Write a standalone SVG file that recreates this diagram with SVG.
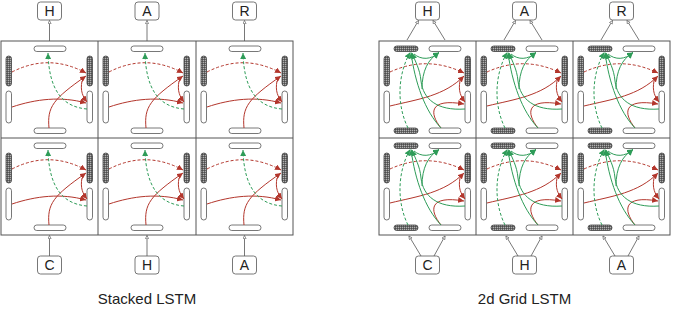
<svg xmlns="http://www.w3.org/2000/svg" xmlns:xlink="http://www.w3.org/1999/xlink" width="673" height="313" viewBox="0 0 673 313">
<style>
.frame{fill:none;stroke:#555;stroke-width:1}
.pw{fill:#fff;stroke:#555;stroke-width:0.8}
.ph{fill:url(#hatch);stroke:#444;stroke-width:0.8}
.r{fill:none;stroke:#b3362c;stroke-width:1;marker-end:url(#ar)}
.g{fill:none;stroke:#2e9c58;stroke-width:1;marker-end:url(#ag)}
.d{stroke-dasharray:3,2}
.lab{fill:#fff;stroke:#555;stroke-width:0.8}
.lt{font-family:"Liberation Sans",Arial,sans-serif;font-size:14px;fill:#222;text-anchor:middle}
.ttl{font-family:"Liberation Sans",Arial,sans-serif;font-size:15px;fill:#222;text-anchor:middle}
.la{fill:none;stroke:#555;stroke-width:0.8;marker-end:url(#ao)}
</style>
<defs>
<pattern id="hatch" width="2" height="2" patternUnits="userSpaceOnUse"><rect width="2" height="2" fill="#b0b0b0"/><path d="M0,0.5H2M0.5,0V2" stroke="#3a3a3a" stroke-width="0.6"/></pattern>
<marker id="ar" markerUnits="userSpaceOnUse" markerWidth="7" markerHeight="6" refX="6" refY="3" orient="auto"><path d="M0,0 L6,3 L0,6 z" fill="#b3362c"/></marker>
<marker id="ag" markerUnits="userSpaceOnUse" markerWidth="7" markerHeight="6" refX="6" refY="3" orient="auto"><path d="M0,0 L6,3 L0,6 z" fill="#2e9c58"/></marker>
<marker id="ao" markerUnits="userSpaceOnUse" markerWidth="5" markerHeight="5" refX="3.6" refY="2" orient="auto"><path d="M0.4,0.4 L3.6,2 L0.4,3.6 z" fill="#fff" stroke="#555" stroke-width="0.6"/></marker>
<g id="sPills">
<rect class="ph" x="5" y="15" width="5.5" height="30" rx="2.75"/>
<rect class="pw" x="5" y="50" width="5.5" height="32" rx="2.75"/>
<rect class="ph" x="86" y="15" width="5.5" height="30" rx="2.75"/>
<rect class="pw" x="86" y="50" width="5.5" height="32" rx="2.75"/>
<rect class="pw" x="33" y="5" width="32" height="5.5" rx="2.75"/>
<rect class="pw" x="33" y="87" width="32" height="5.5" rx="2.75"/>
</g>
<g id="gPills">
<rect class="ph" x="5" y="15" width="5.5" height="30" rx="2.75"/>
<rect class="pw" x="5" y="50" width="5.5" height="32" rx="2.75"/>
<rect class="ph" x="86" y="15" width="5.5" height="30" rx="2.75"/>
<rect class="pw" x="86" y="50" width="5.5" height="32" rx="2.75"/>
<rect class="ph" x="15" y="5" width="24" height="5.5" rx="2.75"/>
<rect class="pw" x="50" y="5" width="32" height="5.5" rx="2.75"/>
<rect class="ph" x="15" y="87" width="24" height="5.5" rx="2.75"/>
<rect class="pw" x="50" y="87" width="32" height="5.5" rx="2.75"/>
</g>
<g id="sArrows">
<path class="r d" d="M11,31 Q48,12 85,32"/>
<path class="r" d="M11,66 C35,58 60,55 85,62"/>
<path class="r" d="M48,87 C46,66 52,58 85,35"/>
<path class="r" d="M81,40 C79,50 82,56 86,61"/>
<path class="g d" d="M86,68 C62,66 48,50 47,12"/>
</g>
<g id="gArrows">
<path class="r d" d="M11,31 Q48,14 85,32"/>
<path class="r" d="M11,65 C40,58 65,55 85,35"/>
<path class="r" d="M62,87 C50,72 50,57 85,63"/>
<path class="r" d="M81,40 C79,50 82,56 86,61"/>
<path class="g d" d="M29,87 C18,65 18,35 31,11.5"/>
<path class="g" d="M62,87 C46,70 36,42 32,11.5"/>
<path class="g" d="M86,68 C58,70 44,58 42,40 C41,28 36,20 33,12"/>
<path class="g" d="M43,48 C43,30 49,18 60,11.5"/>
<path class="g" d="M35,13 C42,19 52,19 60,11.5"/>
</g>
</defs>

<g id="stacked-frame">
<rect class="frame" x="1" y="41" width="292" height="194"/>
<path class="frame" d="M98,41V235M196,41V235M1,138H293"/>
</g>
<g id="grid-frame">
<rect class="frame" x="379" y="41" width="291" height="194"/>
<path class="frame" d="M476,41V235M573,41V235M379,138H670"/>
</g>

<g id="s11"><use href="#sPills" x="1" y="41"/></g>
<g id="s12"><use href="#sPills" x="98" y="41"/></g>
<g id="s13"><use href="#sPills" x="196" y="41"/></g>
<g id="s21"><use href="#sPills" x="1" y="138"/></g>
<g id="s22"><use href="#sPills" x="98" y="138"/></g>
<g id="s23"><use href="#sPills" x="196" y="138"/></g>
<g id="g11"><use href="#gPills" x="379" y="41"/></g>
<g id="g12"><use href="#gPills" x="476" y="41"/></g>
<g id="g13"><use href="#gPills" x="573" y="41"/></g>
<g id="g21"><use href="#gPills" x="379" y="138"/></g>
<g id="g22"><use href="#gPills" x="476" y="138"/></g>
<g id="g23"><use href="#gPills" x="573" y="138"/></g>

<g id="lab-s-top-H"><rect class="lab" x="37.5" y="2" width="24" height="18" rx="3"/><text class="lt" x="49.5" y="16">H</text></g>
<g id="lab-s-top-A"><rect class="lab" x="135" y="2" width="24" height="18" rx="3"/><text class="lt" x="147" y="16">A</text></g>
<g id="lab-s-top-R"><rect class="lab" x="232.5" y="2" width="24" height="18" rx="3"/><text class="lt" x="244.5" y="16">R</text></g>
<g id="lab-s-bot-C"><rect class="lab" x="37.5" y="256" width="24" height="18" rx="3"/><text class="lt" x="49.5" y="270">C</text></g>
<g id="lab-s-bot-H"><rect class="lab" x="135" y="256" width="24" height="18" rx="3"/><text class="lt" x="147" y="270">H</text></g>
<g id="lab-s-bot-A"><rect class="lab" x="232.5" y="256" width="24" height="18" rx="3"/><text class="lt" x="244.5" y="270">A</text></g>
<g id="lab-g-top-H"><rect class="lab" x="415.5" y="2" width="24" height="18" rx="3"/><text class="lt" x="427.5" y="16">H</text></g>
<g id="lab-g-top-A"><rect class="lab" x="512.5" y="2" width="24" height="18" rx="3"/><text class="lt" x="524.5" y="16">A</text></g>
<g id="lab-g-top-R"><rect class="lab" x="609.5" y="2" width="24" height="18" rx="3"/><text class="lt" x="621.5" y="16">R</text></g>
<g id="lab-g-bot-C"><rect class="lab" x="415.5" y="256" width="24" height="18" rx="3"/><text class="lt" x="427.5" y="270">C</text></g>
<g id="lab-g-bot-H"><rect class="lab" x="512.5" y="256" width="24" height="18" rx="3"/><text class="lt" x="524.5" y="270">H</text></g>
<g id="lab-g-bot-A"><rect class="lab" x="609.5" y="256" width="24" height="18" rx="3"/><text class="lt" x="621.5" y="270">A</text></g>

<g id="connectors">
<use href="#sArrows" x="1" y="41"/>
<use href="#sArrows" x="98" y="41"/>
<use href="#sArrows" x="196" y="41"/>
<use href="#sArrows" x="1" y="138"/>
<use href="#sArrows" x="98" y="138"/>
<use href="#sArrows" x="196" y="138"/>
<use href="#gArrows" x="379" y="41"/>
<use href="#gArrows" x="476" y="41"/>
<use href="#gArrows" x="573" y="41"/>
<use href="#gArrows" x="379" y="138"/>
<use href="#gArrows" x="476" y="138"/>
<use href="#gArrows" x="573" y="138"/>
<path class="la" d="M49.5,41V20.5"/>
<path class="la" d="M147,41V20.5"/>
<path class="la" d="M244.5,41V20.5"/>
<path class="la" d="M49.5,256V235.5"/>
<path class="la" d="M147,256V235.5"/>
<path class="la" d="M244.5,256V235.5"/>
<path class="la" d="M407,40L418.5,20.5"/>
<path class="la" d="M445,40L433,20.5"/>
<path class="la" d="M504,40L515.5,20.5"/>
<path class="la" d="M542,40L530,20.5"/>
<path class="la" d="M601,40L612.5,20.5"/>
<path class="la" d="M639,40L627,20.5"/>
<path class="la" d="M421,256L409,236"/>
<path class="la" d="M434,256L445,236"/>
<path class="la" d="M518,256L506,236"/>
<path class="la" d="M531,256L542,236"/>
<path class="la" d="M615,256L603,236"/>
<path class="la" d="M628,256L639,236"/>
</g>

<text class="ttl" x="147" y="304">Stacked LSTM</text>
<text class="ttl" x="524.5" y="304">2d Grid LSTM</text>
</svg>
